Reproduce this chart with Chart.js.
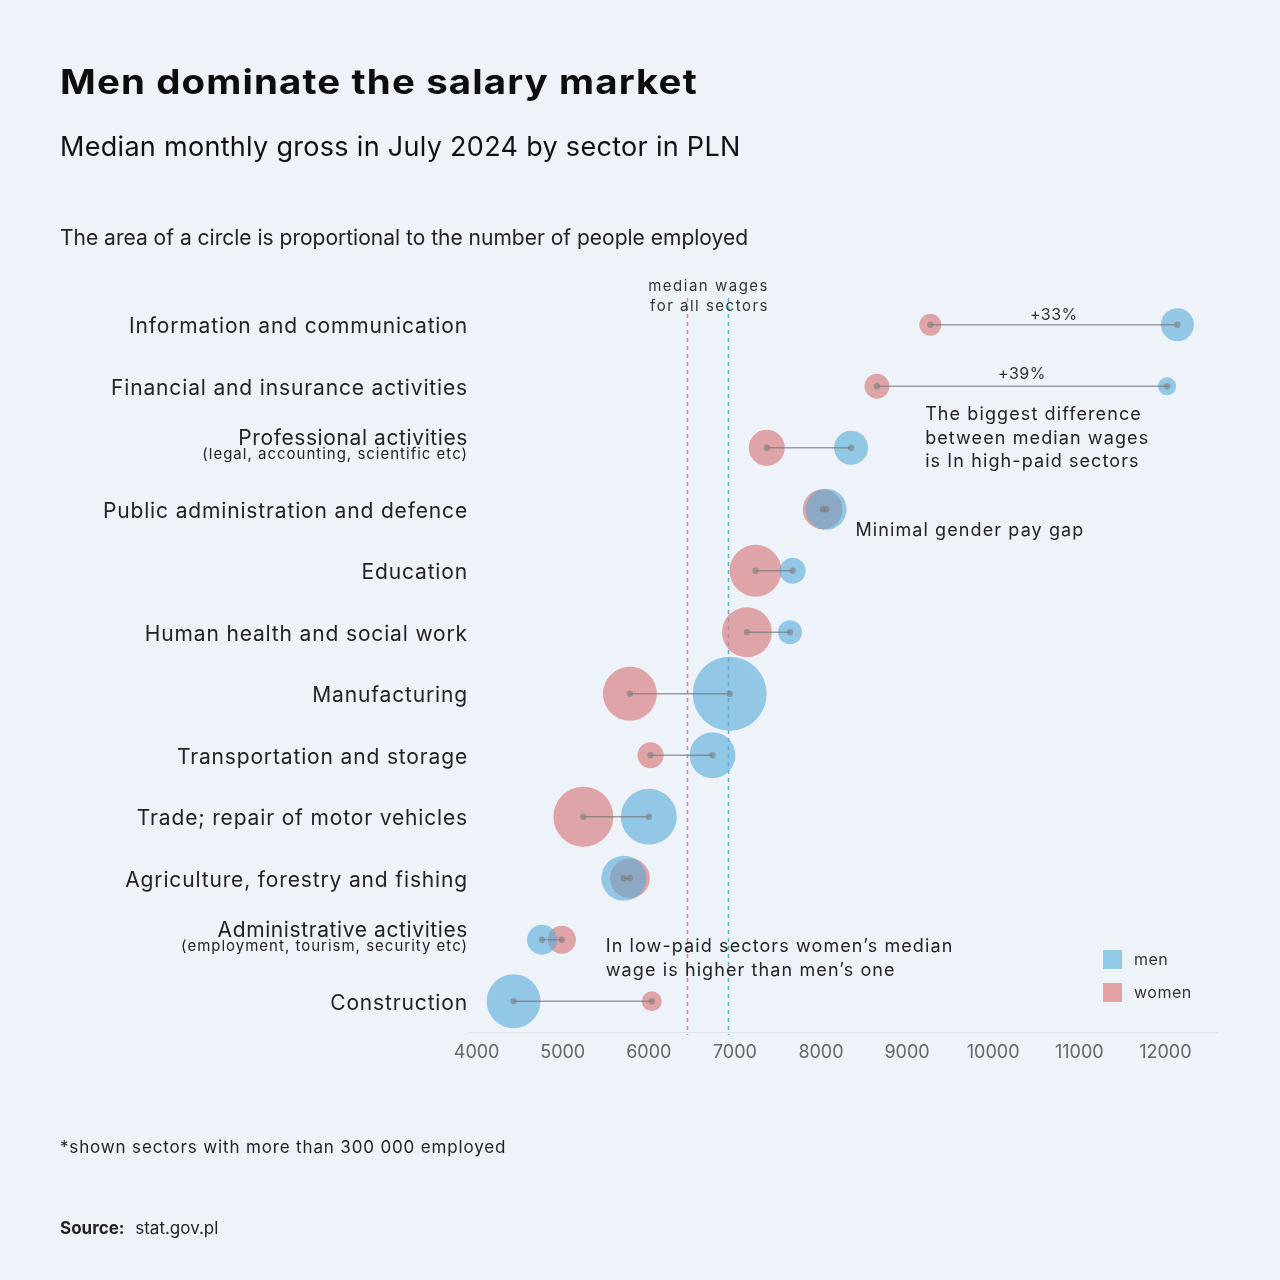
<!DOCTYPE html>
<html>
<head>
<meta charset="utf-8">
<script src="https://cdn.jsdelivr.net/npm/chart.js@4.4.1/dist/chart.umd.min.js"></script>
<style>
  body{margin:0;background:#eef3f9;font-family:Inter, 'Noto Sans', sans-serif;color:#111;}
  .page{position:relative;width:1280px;height:1280px;overflow:hidden;}
  canvas{position:absolute;left:0;top:0;}
  .t{position:absolute;left:60px;white-space:nowrap;line-height:1;}
  .title{top:65px;font-size:34px;font-weight:700;color:#0d0d0d;letter-spacing:1px;transform:scaleX(1.13);transform-origin:left center;}
  .sub{top:133px;font-size:27px;color:#111;letter-spacing:0.3px;}
  .note{top:227px;font-size:21px;color:#222;}
  .foot{top:1139px;font-size:17px;color:#222;letter-spacing:0.85px;}
  .src{top:1220px;font-size:17px;color:#222;}
  .src b{margin-right:6px;}
  .leg{position:absolute;left:1103px;font-size:16px;color:#333;line-height:19px;white-space:nowrap;letter-spacing:0.5px;}
  .leg i{display:inline-block;width:19px;height:19px;vertical-align:top;margin-right:12px;}
</style>
</head>
<body>
<div class="page">
  <canvas id="chart" width="1280" height="1280"></canvas>
  <div class="t title">Men dominate the salary market</div>
  <div class="t sub">Median monthly gross in July 2024 by sector in PLN</div>
  <div class="t note">The area of a circle is proportional to the number of people employed</div>
  <div class="t foot">*shown sectors with more than 300 000 employed</div>
  <div class="t src"><b>Source:</b> stat.gov.pl</div>
  <div class="leg" style="top:950px"><i style="background:rgb(145,203,230)"></i>men</div>
  <div class="leg" style="top:983px"><i style="background:rgb(230,163,163)"></i>women</div>
</div>
<script>
// sectors, top to bottom
const sectors = [
  'Information and communication',
  'Financial and insurance activities',
  'Professional activities',
  'Public administration and defence',
  'Education',
  'Human health and social work',
  'Manufacturing',
  'Transportation and storage',
  'Trade; repair of motor vehicles',
  'Agriculture, forestry and fishing',
  'Administrative activities',
  'Construction'
];
const sectorNotes = ['', '', '(legal, accounting, scientific etc)', '', '', '', '', '', '', '',
  '(employment, tourism, security etc)', ''];

// median monthly gross, PLN
const womenWage = [9270, 8650, 7370, 8020, 7240, 7140, 5780, 6020, 5240, 5780, 4990, 6035];
const menWage = [12140, 12020, 8350, 8060, 7670, 7640, 6940, 6740, 6000, 5710, 4760, 4430];

// employed, thousands (estimated from circle areas)
const womenEmployed = [155, 200, 420, 515, 870, 805, 940, 220, 1160, 515, 255, 130];
const menEmployed = [350, 105, 375, 540, 220, 185, 1765, 680, 1010, 655, 290, 940];

const xTicks = [4000, 5000, 6000, 7000, 8000, 9000, 10000, 11000, 12000];
const medianWomen = 6440;
const medianMen = 6920;

const FONT = 'Inter, "Noto Sans", sans-serif';
const rScale = 0.88;

function bubbles(wages, employed){
  return sectors.map((s, i) => ({x: wages[i], y: i, r: rScale * Math.sqrt(employed[i])}));
}

// annotations: x in PLN, row index, pixel offset from row
const notes = [
  {text: 'The biggest difference', x: 9210, row: 1, dy: 28},
  {text: 'between median wages', x: 9210, row: 1, dy: 52},
  {text: 'is In high-paid sectors', x: 9210, row: 1, dy: 75},
  {text: 'Minimal gender pay gap', x: 8400, row: 3, dy: 21},
  {text: 'In low-paid sectors women\u2019s median', x: 5500, row: 10, dy: 7},
  {text: 'wage is higher than men\u2019s one', x: 5500, row: 10, dy: 31}
];
const gapLabels = [{text: '+33%', row: 0, dy: -10}, {text: '+39%', row: 1, dy: -12}];

const medianLines = {
  id: 'medianLines',
  beforeDatasetsDraw(chart){
    const {ctx, chartArea, scales} = chart;
    ctx.save();
    ctx.setLineDash([4, 4]);
    ctx.lineWidth = 1.5;
    [[medianWomen, 'rgba(222,120,120,0.9)'], [medianMen, 'rgba(80,165,215,0.9)']].forEach(([v, c]) => {
      const x = Math.round(scales.x.getPixelForValue(v)) + 0.5;
      ctx.strokeStyle = c;
      ctx.beginPath();
      ctx.moveTo(x, chartArea.top + 4);
      ctx.lineTo(x, chartArea.bottom + 3);
      ctx.stroke();
    });
    ctx.restore();
  }
};

const connectors = {
  id: 'connectors',
  afterDatasetsDraw(chart){
    const {ctx, scales} = chart;
    ctx.save();
    sectors.forEach((s, i) => {
      const y = scales.y.getPixelForValue(i);
      const x1 = scales.x.getPixelForValue(womenWage[i]);
      const x2 = scales.x.getPixelForValue(menWage[i]);
      ctx.strokeStyle = 'rgba(120,120,120,0.7)';
      ctx.lineWidth = 1.3;
      ctx.beginPath();
      ctx.moveTo(x1, y);
      ctx.lineTo(x2, y);
      ctx.stroke();
      ctx.fillStyle = 'rgba(125,125,125,0.6)';
      [x1, x2].forEach(x => {
        ctx.beginPath();
        ctx.arc(x, y, 3.2, 0, Math.PI * 2);
        ctx.fill();
      });
    });
    ctx.restore();
  }
};

const labels = {
  id: 'labels',
  afterDraw(chart){
    const {ctx, chartArea, scales} = chart;
    ctx.save();
    ctx.textBaseline = 'middle';
    // sector names
    ctx.textAlign = 'right';
    sectors.forEach((s, i) => {
      const y = scales.y.getPixelForValue(i) + 2;
      ctx.fillStyle = '#222';
      if(sectorNotes[i]){
        ctx.font = '21px ' + FONT;
        ctx.letterSpacing = '0.6px';
        ctx.fillText(s, 468, y - 11);
        ctx.font = '15px ' + FONT;
        ctx.letterSpacing = '1px';
        ctx.fillText(sectorNotes[i], 468, y + 5);
      } else {
        ctx.font = '21px ' + FONT;
        ctx.letterSpacing = '0.85px';
        ctx.fillText(s, 468, y);
      }
    });
    // median label
    ctx.font = '15px ' + FONT;
    ctx.letterSpacing = '1.5px';
    ctx.fillStyle = '#333';
    const mx = scales.x.getPixelForValue(medianMen) + 41;
    ctx.fillText('median wages', mx, chartArea.top - 8);
    ctx.fillText('for all sectors', mx, chartArea.top + 12);
    // gap labels
    ctx.textAlign = 'center';
    ctx.font = '16px ' + FONT;
    ctx.letterSpacing = '0.5px';
    gapLabels.forEach(g => {
      const x = scales.x.getPixelForValue((womenWage[g.row] + menWage[g.row]) / 2);
      ctx.fillText(g.text, x, scales.y.getPixelForValue(g.row) + g.dy);
    });
    // notes
    ctx.textAlign = 'left';
    ctx.font = '18px ' + FONT;
    ctx.letterSpacing = '1.1px';
    ctx.fillStyle = '#222';
    notes.forEach(n => {
      ctx.fillText(n.text, scales.x.getPixelForValue(n.x), scales.y.getPixelForValue(n.row) + n.dy);
    });
    ctx.restore();
  }
};

new Chart(document.getElementById('chart'), {
  type: 'bubble',
  data: {
    datasets: [
      {
        label: 'men',
        data: bubbles(menWage, menEmployed),
        backgroundColor: 'rgba(85,172,217,0.6)',
        borderWidth: 0,
        clip: false
      },
      {
        label: 'women',
        data: bubbles(womenWage, womenEmployed),
        backgroundColor: 'rgba(214,112,112,0.6)',
        borderWidth: 0,
        clip: false
      }
    ]
  },
  options: {
    responsive: false,
    animation: false,
    devicePixelRatio: 1,
    events: [],
    layout: { padding: { left: 468, right: 63, top: 294, bottom: 208 } },
    plugins: { legend: { display: false }, tooltip: { enabled: false } },
    scales: {
      x: {
        type: 'linear',
        min: 3900,
        max: 12600,
        afterBuildTicks: scale => { scale.ticks = xTicks.map(v => ({value: v})); },
        afterFit: scale => { scale.height = 40; },
        grid: { display: false, drawTicks: false },
        border: { display: true, color: '#dfe5ec', width: 1 },
        ticks: {
          color: '#666',
          font: { family: FONT, size: 18 },
          padding: 10,
          maxRotation: 0,
          autoSkip: false,
          callback: v => String(v)
        }
      },
      y: {
        type: 'linear',
        min: -0.5,
        max: 11.5,
        reverse: true,
        display: false
      }
    }
  },
  plugins: [medianLines, connectors, labels]
});
</script>
</body>
</html>
